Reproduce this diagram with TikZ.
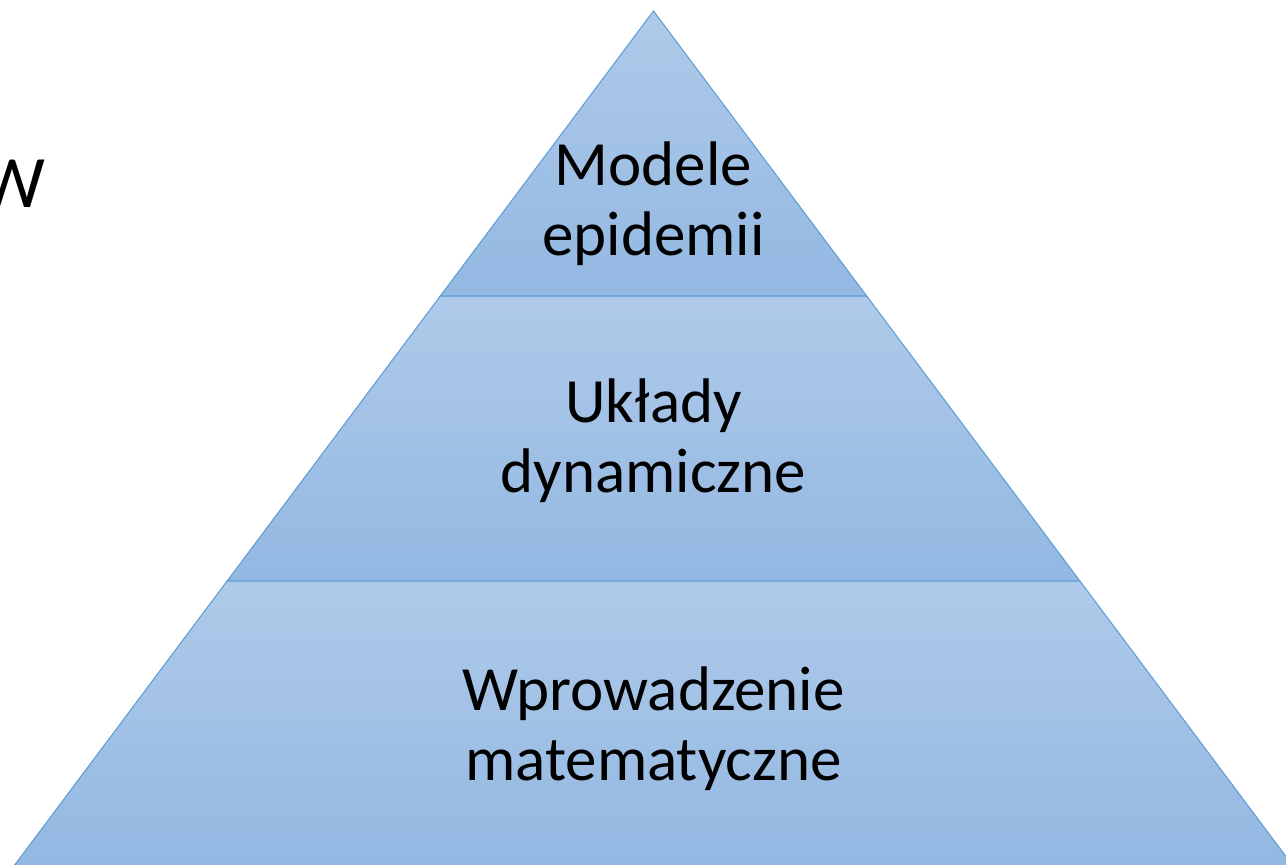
\documentclass[tikz,border=0pt]{standalone}
\usepackage{fontspec}
\setmainfont{Carlito}
\definecolor{edgeblue}{HTML}{5B9BD5}
\definecolor{fillTop}{HTML}{AFCAE9}
\definecolor{fillBot}{HTML}{93B8E2}
\begin{document}
\begin{tikzpicture}[x=1pt,y=-1pt,
  layer/.style={draw=edgeblue, line width=1pt, top color=fillTop, bottom color=fillBot},
  label/.style={font=\fontsize{63}{70}\selectfont, align=center, inner sep=0pt, text=black}]
\useasboundingbox (0,0) rectangle (1286,865);
\clip (0,0) rectangle (1286,865);

% pyramid corners
\coordinate (A)  at (653.5,11);
\coordinate (L1) at (440.3,296);
\coordinate (R1) at (866.7,296);
\coordinate (L2) at (227.1,581);
\coordinate (R2) at (1079.9,581);
\coordinate (L3) at (13.9,866);
\coordinate (R3) at (1293.1,866);

% the three layers
\path[layer] (A) -- (R1) -- (L1) -- cycle;
\path[layer] (L1) -- (R1) -- (R2) -- (L2) -- cycle;
\path[layer] (L2) -- (R2) -- (R3) -- (L3) -- cycle;

% layer captions
\node[label] (t1) at (653.5,204) {Modele\\epidemii};
\node[label] (t2) at (653.5,441) {Układy\\dynamiczne};
\node[label] (t3) at (653.5,729) {Wprowadzenie\\matematyczne};

% trailing letter of the heading at the left edge
\node[font=\fontsize{74}{74}\selectfont, anchor=base east, inner sep=0pt] (w) at (46,207) {W};
\end{tikzpicture}
\end{document}
